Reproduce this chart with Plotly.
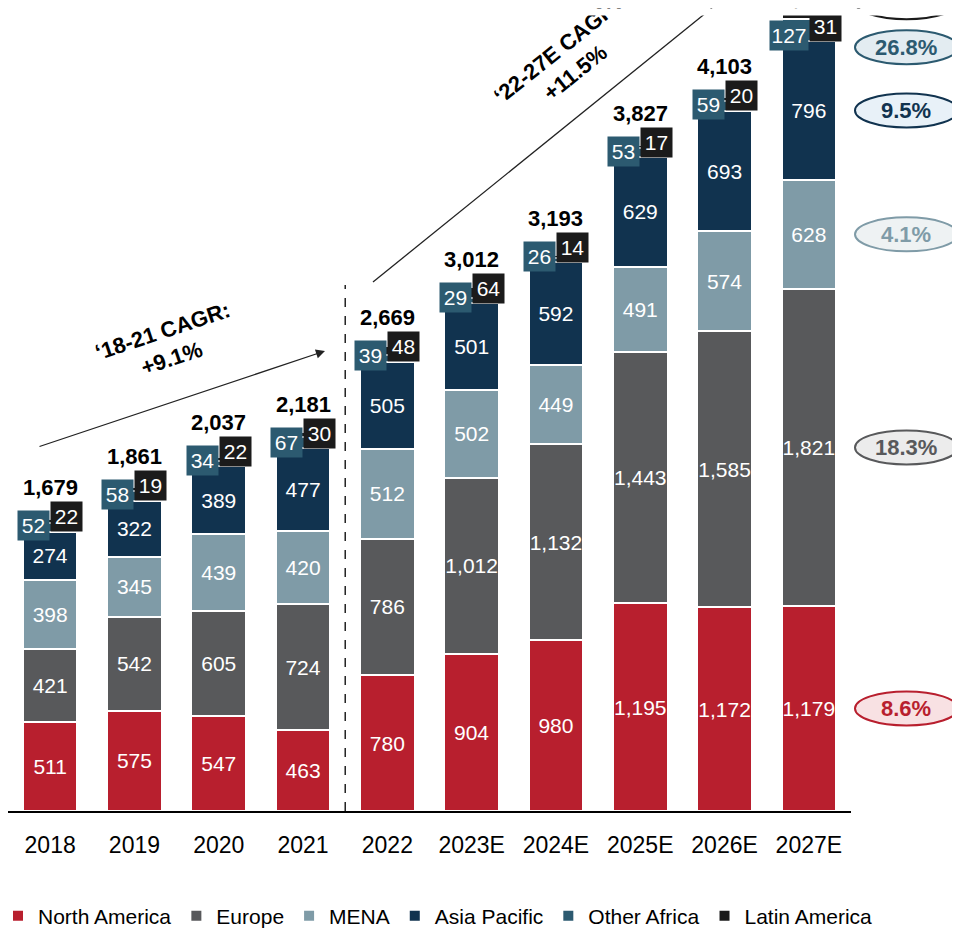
import plotly.graph_objects as go

# ---------------- data ----------------
years = ["2018", "2019", "2020", "2021", "2022", "2023E", "2024E", "2025E", "2026E", "2027E"]
north_america = [511, 575, 547, 463, 780, 904, 980, 1195, 1172, 1179]
europe = [421, 542, 605, 724, 786, 1012, 1132, 1443, 1585, 1821]
mena = [398, 345, 439, 420, 512, 502, 449, 491, 574, 628]
asia_pacific = [274, 322, 389, 477, 505, 501, 592, 629, 693, 796]
other_africa = [52, 58, 34, 67, 39, 29, 26, 53, 59, 127]
latin_america = [22, 19, 22, 30, 48, 64, 14, 17, 20, 31]
totals = [1679, 1861, 2037, 2181, 2669, 3012, 3193, 3827, 4103, 4582]
series_names = ["North America", "Europe", "MENA", "Asia Pacific", "Other Africa", "Latin America"]
cagr_27 = ["8.6%", "18.3%", "4.1%", "9.5%", "26.8%", ""]
period_labels = ["‘18-21 CAGR:<br>+9.1%", "‘22-27E CAGR:<br>+11.5%"]

# ---------------- style ----------------
PAGE_OFF = 8  # browser body margin
W, H = 952, 920
L, R, T, B = 0, 109, 0, 117
PW, PH = W - L - R, H - T - B
YMAX = 4615
SANS = "Liberation Sans, Arial, sans-serif"
colors = ["#b81f2e", "#58595b", "#7f9ba7", "#11334f", "#2c5a70", "#1b1b1b"]
ell_fill = ["#f8e1e3", "#ececec", "#eef2f3", "#e8f1f8", "#e3ecf1", "#ffffff"]


def px_x(px):
    return (px - PAGE_OFF - L) / PW


def px_y(py):
    return (T + PH - (py - PAGE_OFF)) / PH


series = [north_america, europe, mena, asia_pacific, other_africa, latin_america]
xpos = list(range(len(years)))

fig = go.Figure()
for i, (name, vals) in enumerate(zip(series_names, series)):
    show_text = i < 4
    fig.add_trace(go.Bar(
        x=xpos, y=vals, name=name,
        marker=dict(color=colors[i], line=dict(color="white", width=2)),
        texttemplate="%{y:,}" if show_text else None,
        textposition="inside" if show_text else "none",
        insidetextanchor="middle", textangle=0, constraintext="none",
        textfont=dict(color="white", size=21, family=SANS),
        hoverinfo="skip",
    ))

cum4 = [a + b + c + d for a, b, c, d in zip(north_america, europe, mena, asia_pacific)]

annotations = []
shapes = []

# small-segment label boxes and totals
for xp, c4, oa, la, tot in zip(xpos, cum4, other_africa, latin_america, totals):
    oa_t, la_t = str(oa), str(la)
    annotations.append(dict(
        x=xp, y=c4, xref="x", yref="y", text=oa_t, showarrow=False,
        font=dict(color="white", size=21, family=SANS),
        bgcolor=colors[4], width=max(31, 12 * len(oa_t) + 2), height=29, borderpad=0,
        xanchor="right", yanchor="middle", yshift=6))
    annotations.append(dict(
        x=xp, y=c4, xref="x", yref="y", text=la_t, showarrow=False,
        font=dict(color="white", size=21, family=SANS),
        bgcolor=colors[5], width=max(31, 12 * len(la_t) + 2), height=29, borderpad=0,
        xanchor="left", yanchor="middle", yshift=15))
    annotations.append(dict(
        x=xp, y=c4, xref="x", yref="y", text=f"<b>{tot:,}</b>", showarrow=False,
        font=dict(color="black", size=22, family=SANS),
        xanchor="center", yanchor="middle", yshift=44))

# period CAGR arrows and labels
annotations.append(dict(
    x=px_x(325), y=px_y(351), xref="paper", yref="paper", text="", showarrow=True,
    ax=-287, ay=96, arrowhead=2, arrowsize=1.4, arrowwidth=1.3, arrowcolor="#222222", standoff=0))
annotations.append(dict(
    x=px_x(167), y=px_y(345), xref="paper", yref="paper", text=f"<b>{period_labels[0]}</b>",
    showarrow=False, textangle=-18.3, xanchor="center", yanchor="middle",
    font=dict(color="black", size=22, family=SANS)))
shapes.append(dict(type="line", xref="paper", yref="paper",
                   x0=px_x(373), y0=px_y(282), x1=px_x(712), y1=px_y(8),
                   line=dict(color="#222222", width=1.3)))
annotations.append(dict(
    x=px_x(566), y=px_y(62), xref="paper", yref="paper", text=f"<b>{period_labels[1]}</b>",
    showarrow=False, textangle=-38.7, xanchor="center", yanchor="middle",
    font=dict(color="black", size=22, family=SANS)))

# dashed divider between actuals and estimates
shapes.append(dict(type="line", xref="x", yref="paper", x0=3.5, x1=3.5, y0=0, y1=px_y(285),
                   line=dict(color="black", width=1.3, dash="dash")))

# 2027 CAGR ellipses on the right
last = len(years) - 1
bottoms = [0, north_america[last], north_america[last] + europe[last],
           north_america[last] + europe[last] + mena[last]]
mids = [b + v[last] / 2 for b, v in zip(bottoms, series[:4])]
ell_specs = [(m, 0) for m in mids] + [(cum4[last], -6), (cum4[last], 39)]
for i, ((yc, off), lab) in enumerate(zip(ell_specs, cagr_27)):
    shapes.append(dict(type="circle", xref="paper", yref="y", ysizemode="pixel", yanchor=yc,
                       x0=px_x(855), x1=px_x(958), y0=off - 17, y1=off + 17,
                       fillcolor=ell_fill[i], line=dict(color=colors[i], width=2), layer="above"))
    if lab:
        annotations.append(dict(
            x=px_x(906), y=yc, xref="paper", yref="y", yshift=off, text=f"<b>{lab}</b>",
            showarrow=False, xanchor="center", yanchor="middle",
            font=dict(color=colors[i], size=22, family=SANS)))

# top crop strip (the source picture is cut off at the top)
annotations.append(dict(
    x=px_x(PAGE_OFF), y=px_y(PAGE_OFF), xref="paper", yref="paper", xanchor="left", yanchor="top",
    text=" ", showarrow=False, bgcolor="white", width=W - 2, height=6, borderpad=0))

fig.update_layout(
    width=W, height=H,
    margin=dict(l=L, r=R, t=T, b=B, pad=0, autoexpand=False),
    barmode="stack", bargap=0.353,
    plot_bgcolor="white", paper_bgcolor="white",
    font=dict(family=SANS, color="black"),
    uniformtext=dict(mode="show", minsize=21),
    xaxis=dict(range=[-0.5, len(years) - 0.5], tickmode="array", tickvals=xpos, ticktext=years,
               showline=True, linecolor="black", linewidth=2,
               ticks="", ticklabelstandoff=12, showgrid=False, zeroline=False,
               tickfont=dict(size=23, family=SANS, color="black")),
    yaxis=dict(visible=False, range=[0, YMAX], showgrid=False, zeroline=False),
    legend=dict(orientation="h", xref="paper", yref="paper",
                x=px_x(878), y=px_y(916), xanchor="right", yanchor="middle",
                font=dict(size=21, family=SANS, color="black"),
                itemwidth=30, traceorder="normal", bgcolor="rgba(0,0,0,0)"),
    annotations=annotations,
    shapes=shapes,
    showlegend=True,
)

fig.write_html("out.html")
